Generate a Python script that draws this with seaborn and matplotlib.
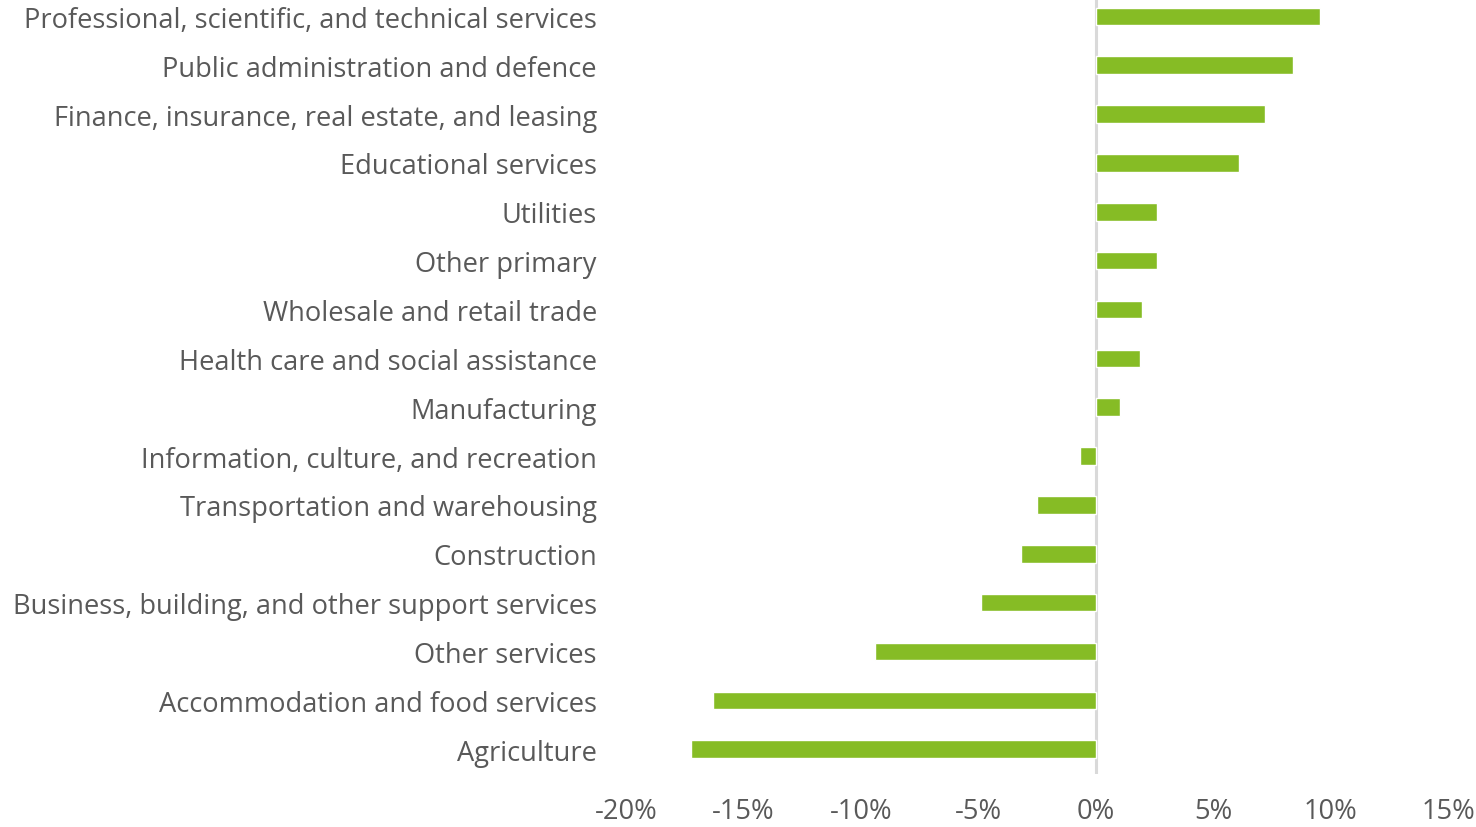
import matplotlib
matplotlib.use("Agg")
import matplotlib.pyplot as plt
import seaborn as sns
import pandas as pd
from matplotlib.ticker import FuncFormatter

industries = [
    "Professional, scientific, and technical services",
    "Public administration and defence",
    "Finance, insurance, real estate, and leasing",
    "Educational services",
    "Utilities",
    "Other primary",
    "Wholesale and retail trade",
    "Health care and social assistance",
    "Manufacturing",
    "Information, culture, and recreation",
    "Transportation and warehousing",
    "Construction",
    "Business, building, and other support services",
    "Other services",
    "Accommodation and food services",
    "Agriculture",
]
change_pct = [9.55, 8.38, 7.19, 6.09, 2.62, 2.62, 1.98, 1.87, 1.02,
              -0.68, -2.5, -3.2, -4.9, -9.4, -16.3, -17.25]

x_ticks = [-20, -15, -10, -5, 0, 5, 10, 15]

df = pd.DataFrame({"industry": industries, "change": change_pct})

sns.set_theme(style="white")
plt.rcParams["font.family"] = ["Open Sans", "DejaVu Sans"]

text_color = "#595959"
bar_color = "#86BC25"

fig = plt.figure(figsize=(14.76, 8.28), dpi=100)
ax = fig.add_axes([0.4241, 0.0645, 0.557, 0.944])

sns.barplot(data=df, x="change", y="industry", orient="h", color=bar_color,
            width=0.36, saturation=1, ax=ax)

ax.set_xlim(-20, 15)
ax.set_xticks(x_ticks)
ax.xaxis.set_major_formatter(FuncFormatter(lambda v, p: f"{v:.0f}%"))
ax.axvline(0, color="#D9D9D9", linewidth=2.2, zorder=0)

for s in ax.spines.values():
    s.set_visible(False)

ax.set_xlabel("")
ax.set_ylabel("")
ax.tick_params(axis="y", length=0, pad=21, labelsize=19.6, labelcolor=text_color)
ax.tick_params(axis="x", length=0, pad=17, labelsize=19.6, labelcolor=text_color)

fig.savefig("out.png", dpi=100)
